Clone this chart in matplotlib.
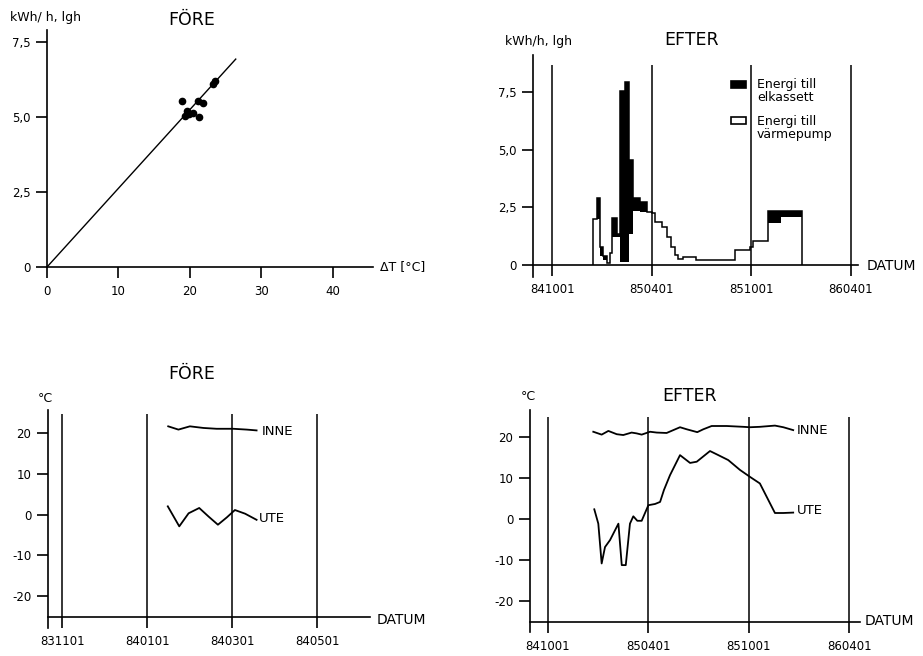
import numpy as np
import matplotlib.pyplot as plt
from matplotlib.patches import Rectangle

# --- FÖRE: energy vs temperature difference ---
dt_points = [18.9, 19.3, 19.6, 19.9, 20.4, 21.1, 21.8, 21.3, 23.2, 23.5]
kwh_points = [5.52, 5.02, 5.2, 5.1, 5.15, 5.52, 5.48, 5.0, 6.1, 6.2]
fit_dt = [0, 26.4]
fit_kwh = [0, 6.93]
kwh_ticks = [0, 2.5, 5.0, 7.5]
kwh_ticklabels = ['0', '2,5', '5,0', '7,5']
dt_ticks = [0, 10, 20, 30, 40]

# --- EFTER: energy per month (months after 841001) ---
bar_edges = [2.49, 2.69, 2.89, 3.05, 3.29, 3.49, 3.59, 3.9, 4.1, 4.4, 4.66,
             4.9, 5.3, 5.7, 6.0, 6.2, 6.6, 6.9, 7.15, 7.41, 7.61, 7.9, 8.7,
             11.0, 11.95, 12.13, 13.03, 13.8, 15.04]
heatpump = [2.0, 2.0, 0.4, 0.2, 0.1, 0.5, 1.2, 1.2, 0.15, 0.15, 1.35,
            2.35, 2.3, 2.3, 2.25, 1.87, 1.66, 1.23, 0.79, 0.43, 0.25, 0.36,
            0.22, 0.65, 0.8, 1.04, 1.83, 2.06]
total = [2.0, 2.9, 0.8, 0.4, 0.1, 0.5, 2.05, 1.35, 7.55, 7.95, 4.55,
         2.9, 2.75, 2.3, 2.25, 1.87, 1.66, 1.23, 0.79, 0.43, 0.25, 0.36,
         0.22, 0.65, 0.8, 1.04, 2.34, 2.34]
efter_ticks = [0, 6, 12, 18]
efter_ticklabels = ['841001', '850401', '851001', '860401']

# --- FÖRE: temperatures (months after 831101) ---
fore_inne_x = [2.49, 2.73, 3.0, 3.32, 3.63, 4.02, 4.34, 4.57]
fore_inne_y = [21.6, 20.8, 21.6, 21.2, 21.0, 21.0, 20.8, 20.6]
fore_ute_x = [2.48, 2.75, 2.97, 3.22, 3.44, 3.66, 3.87, 4.06, 4.3, 4.57]
fore_ute_y = [2.0, -2.9, 0.3, 1.6, -0.5, -2.5, -0.7, 1.1, 0.2, -1.3]
fore_ticks = [0, 2, 4, 6]
fore_ticklabels = ['831101', '840101', '840301', '840501']

# --- EFTER: temperatures (months after 841001) ---
efter_inne_x = [2.72, 3.22, 3.62, 4.12, 4.51, 5.01, 5.31, 5.61, 6.11, 6.51,
                7.1, 7.5, 7.9, 8.3, 8.93, 9.29, 9.79, 10.69, 11.68, 12.08,
                12.67, 13.57, 14.07, 14.66]
efter_inne_y = [21.3, 20.6, 21.5, 20.7, 20.5, 21.1, 20.9, 20.6, 21.3, 21.1,
                21.0, 21.7, 22.4, 21.9, 21.2, 21.9, 22.7, 22.7, 22.5, 22.4,
                22.5, 22.8, 22.4, 21.7]
efter_ute_x = [2.78, 3.02, 3.22, 3.42, 3.72, 4.22, 4.42, 4.66, 4.91, 5.11,
               5.35, 5.61, 6.01, 6.41, 6.71, 6.94, 7.3, 7.9, 8.5, 8.9, 9.69,
               10.19, 10.78, 11.48, 12.08, 12.67, 13.57, 14.07, 14.66]
efter_ute_y = [2.4, -1.1, -10.8, -6.8, -5.1, -1.1, -11.2, -11.2, -1.1, 0.7,
               -0.4, -0.4, 3.4, 3.7, 4.2, 7.1, 10.7, 15.6, 13.7, 14.0, 16.6,
               15.6, 14.4, 12.0, 10.3, 8.7, 1.5, 1.5, 1.6]
temp_ticks = [-20, -10, 0, 10, 20]
temp_ticklabels = ['-20', '-10', '0', '10', '20']

W, H = 923, 656
LW = 1.1

plt.rcParams['font.family'] = 'DejaVu Sans'


def fx(px):
    return px / W


def fy(py):
    return 1 - py / H


def make_axes(fig, left, top, right, bottom):
    ax = fig.add_axes([fx(left), fy(bottom), (right - left) / W, (bottom - top) / H])
    for s in ['top', 'right']:
        ax.spines[s].set_visible(False)
    for s in ['left', 'bottom']:
        ax.spines[s].set_linewidth(1.2)
    ax.tick_params(direction='out', length=8, width=1.2, labelsize=8.5)
    ax.tick_params(axis='x', pad=5)
    ax.tick_params(axis='y', pad=4)
    return ax


fig = plt.figure(figsize=(W / 100, H / 100), dpi=100)

# top left
ax1 = make_axes(fig, 47, 30, 373, 267)
ax1.plot(fit_dt, fit_kwh, color='black', lw=1.0)
ax1.plot(dt_points, kwh_points, 'o', color='black', ms=4.5)
ax1.set_xlim(0, 45.6)
ax1.set_ylim(0, 7.9)
ax1.set_xticks(dt_ticks)
ax1.set_yticks(kwh_ticks)
ax1.set_yticklabels(kwh_ticklabels)
ax1.spines['left'].set_bounds(0, 7.9)
fig.text(fx(10), fy(18), 'kWh/ h, lgh', fontsize=9, va='center')
fig.text(fx(192), fy(20), 'FÖRE', fontsize=12.5, ha='center', va='center')
fig.text(fx(380), fy(267), 'ΔT [°C]', fontsize=9, va='center')

# top right
ax2 = make_axes(fig, 533, 55, 858, 277)
ax2.set_xlim(-1.15, 18.43)
ax2.set_ylim(-0.52, 9.1)
ax2.spines['bottom'].set_position(('data', 0))
ax2.vlines(efter_ticks, 0, 8.66, color='black', lw=LW)
ax2.stairs(total, bar_edges, baseline=heatpump, fill=True, color='black')
ax2.stairs(total, bar_edges, baseline=0, color='black', lw=LW)
ax2.set_xticks(efter_ticks)
ax2.set_xticklabels(efter_ticklabels)
ax2.set_yticks(kwh_ticks)
ax2.set_yticklabels(kwh_ticklabels)
fig.text(fx(505), fy(42), 'kWh/h, lgh', fontsize=9, va='center')
fig.text(fx(692), fy(40), 'EFTER', fontsize=12.5, ha='center', va='center')
fig.text(fx(867), fy(266), 'DATUM', fontsize=10, va='center')
fig.add_artist(Rectangle((fx(731), fy(88)), 15 / W, 7 / H, transform=fig.transFigure,
                         facecolor='black', edgecolor='black', lw=1.2))
fig.add_artist(Rectangle((fx(731), fy(124)), 15 / W, 7 / H, transform=fig.transFigure,
                         facecolor='white', edgecolor='black', lw=1.2))
fig.text(fx(757), fy(78), 'Energi till\nelkassett', fontsize=9, va='top', linespacing=1.0)
fig.text(fx(757), fy(115), 'Energi till\nvärmepump', fontsize=9, va='top', linespacing=1.0)

# bottom left
ax3 = make_axes(fig, 48, 410, 370, 628)
ax3.set_xlim(-0.34, 7.24)
ax3.set_ylim(-27.8, 25.6)
ax3.spines['bottom'].set_position(('data', -25))
ax3.vlines(fore_ticks, -25, 24.7, color='black', lw=LW)
ax3.plot(fore_inne_x, fore_inne_y, color='black', lw=1.3)
ax3.plot(fore_ute_x, fore_ute_y, color='black', lw=1.3)
ax3.set_xticks(fore_ticks)
ax3.set_xticklabels(fore_ticklabels)
ax3.set_yticks(temp_ticks)
ax3.set_yticklabels(temp_ticklabels)
ax3.text(4.69, 20.3, 'INNE', fontsize=9.5, va='center')
ax3.text(4.62, -0.9, 'UTE', fontsize=9.5, va='center')
fig.text(fx(45), fy(399), '°C', fontsize=9, ha='center', va='center')
fig.text(fx(192), fy(374), 'FÖRE', fontsize=12.5, ha='center', va='center')
fig.text(fx(377), fy(620), 'DATUM', fontsize=10, va='center')

# bottom right
ax4 = make_axes(fig, 530, 410, 860, 632)
ax4.set_xlim(-1.06, 18.65)
ax4.set_ylim(-27.5, 26.6)
ax4.spines['bottom'].set_position(('data', -25))
ax4.vlines(efter_ticks, -25, 24.9, color='black', lw=LW)
ax4.plot(efter_inne_x, efter_inne_y, color='black', lw=1.3)
ax4.plot(efter_ute_x, efter_ute_y, color='black', lw=1.3)
ax4.set_xticks(efter_ticks)
ax4.set_xticklabels(efter_ticklabels)
ax4.set_yticks(temp_ticks)
ax4.set_yticklabels(temp_ticklabels)
ax4.text(14.9, 21.7, 'INNE', fontsize=9.5, va='center')
ax4.text(14.9, 2.0, 'UTE', fontsize=9.5, va='center')
fig.text(fx(528), fy(397), '°C', fontsize=9, ha='center', va='center')
fig.text(fx(690), fy(396), 'EFTER', fontsize=12.5, ha='center', va='center')
fig.text(fx(865), fy(621), 'DATUM', fontsize=10, va='center')

fig.savefig('out.png', dpi=100)
